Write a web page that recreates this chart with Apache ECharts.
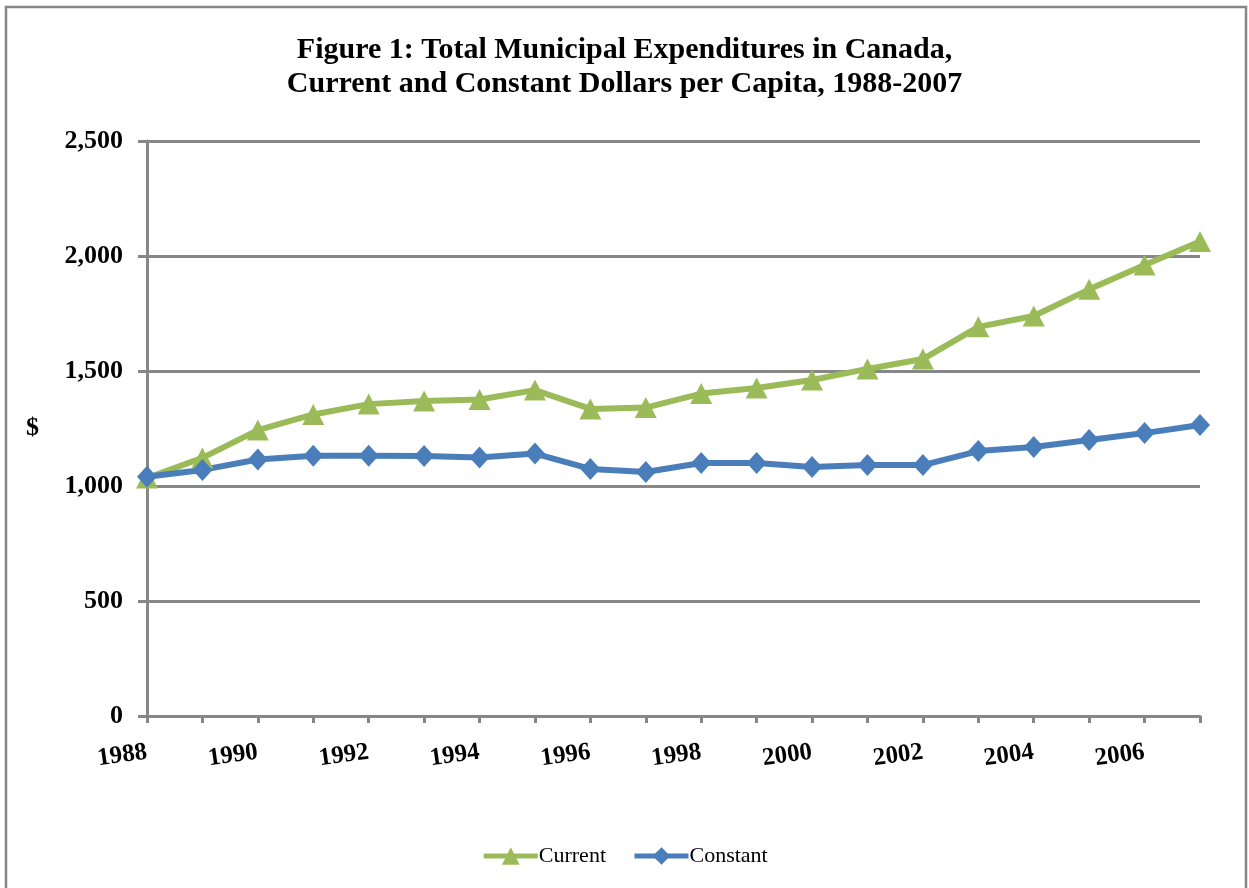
<!DOCTYPE html>
<html>
<head>
<meta charset="utf-8">
<script src="https://cdn.jsdelivr.net/npm/echarts@6/dist/echarts.min.js"></script>
<style>
html,body{margin:0;padding:0;background:#fff;}
#chart{width:1249px;height:888px;}
</style>
</head>
<body>
<div id="chart"></div>
<script>
const years = ['1988','1989','1990','1991','1992','1993','1994','1995','1996','1997','1998','1999','2000','2001','2002','2003','2004','2005','2006','2007'];
const currentValues = [1035,1122,1243,1311,1356,1370,1376,1417,1335,1341,1402,1426,1461,1509,1552,1692,1739,1855,1961,2063];
const constantValues = [1040,1070,1115,1132,1132,1130,1124,1141,1074,1061,1100,1100,1083,1091,1091,1152,1170,1200,1230,1265];
const yTicks = [0,500,1000,1500,2000,2500];

const gray = '#878787';
const serif = '"Liberation Serif","Times New Roman",serif';
const chart = echarts.init(document.getElementById('chart'));
chart.setOption({
  animation: false,
  backgroundColor: '#fff',
  title: {
    text: 'Figure 1: Total Municipal Expenditures in Canada,\nCurrent and Constant Dollars per Capita, 1988-2007',
    left: 'center', top: 28,
    textStyle: {fontFamily: serif, fontWeight: 'bold', fontSize: 30, lineHeight: 34, color: '#000'}
  },
  graphic: [{
    type: 'rect', shape: {x: 6, y: 7, width: 1240, height: 900},
    style: {fill: null, stroke: gray, lineWidth: 2.5}, silent: true, z: -1
  }],
  legend: {
    top: 840, left: 'center',
    itemWidth: 54, itemHeight: 22, itemGap: 26,
    lineStyle: {width: 5},
    textStyle: {fontFamily: serif, fontSize: 22, color: '#000', padding: [0,0,0,-4]},
    data: ['Current','Constant']
  },
  grid: {left: 147, right: 49, top: 141, bottom: 172, containLabel: false},
  xAxis: {
    type: 'category', data: years, boundaryGap: false,
    axisLine: {lineStyle: {color: gray, width: 3}},
    axisTick: {show: true, interval: 0, length: 7, lineStyle: {color: gray, width: 3}},
    axisLabel: {interval: 1, rotate: 8, margin: 36, fontFamily: serif, fontWeight: 'bold', fontSize: 25, color: '#000'},
    splitLine: {show: false}
  },
  yAxis: {
    type: 'value', min: yTicks[0], max: yTicks[yTicks.length-1], interval: 500,
    name: '$', nameLocation: 'middle', nameRotate: 0, nameGap: 108,
    nameTextStyle: {fontFamily: serif, fontWeight: 'bold', fontSize: 26, color: '#000'},
    axisLine: {show: true, lineStyle: {color: gray, width: 3}},
    axisTick: {show: true, length: 9, lineStyle: {color: gray, width: 3}},
    axisLabel: {margin: 24, fontFamily: serif, fontWeight: 'bold', fontSize: 26, color: '#000',
      formatter: v => v.toLocaleString('en-US')},
    splitLine: {show: true, lineStyle: {color: gray, width: 3}}
  },
  series: [
    {name: 'Current', type: 'line', data: currentValues, symbol: 'triangle', symbolSize: [22,21],
     lineStyle: {width: 6, color: '#9BBB59'}, itemStyle: {color: '#9BBB59'}},
    {name: 'Constant', type: 'line', data: constantValues, symbol: 'diamond', symbolSize: [20,22],
     lineStyle: {width: 6, color: '#4A7EBB'}, itemStyle: {color: '#4A7EBB'}}
  ]
});
</script>
</body>
</html>
